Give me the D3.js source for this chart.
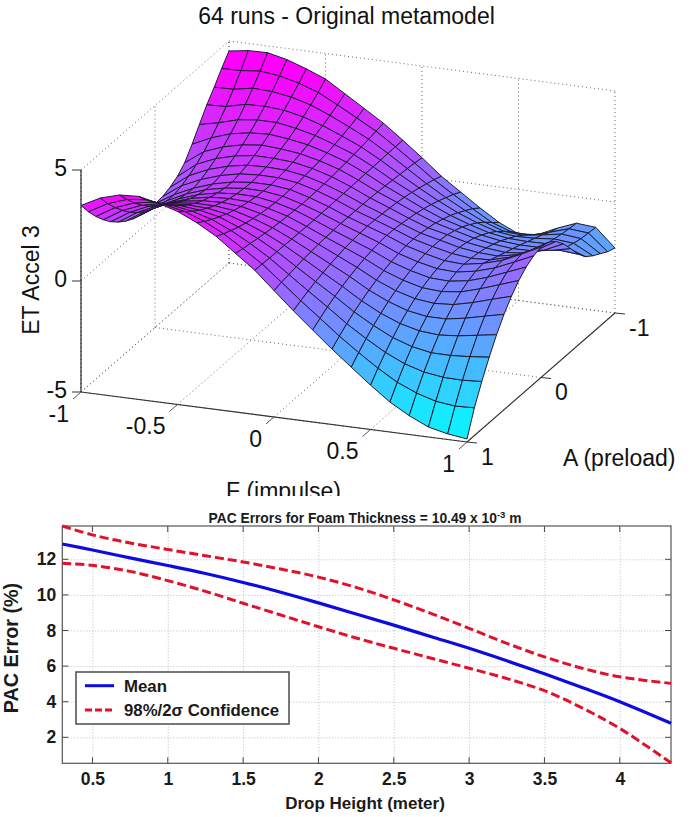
<!DOCTYPE html>
<html>
<head>
<meta charset="utf-8">
<script src="https://cdn.jsdelivr.net/npm/d3@7"></script>
<style>
  html, body { margin: 0; padding: 0; background: #fff; }
  svg { display: block; }
  text { font-family: "Liberation Sans", Arial, sans-serif; fill: #111; }
  .low text { font-weight: bold; fill: #1a1a1a; }
</style>
</head>
<body>
<svg width="694" height="817"></svg>
<script>
var fValues = [-1, -0.9, -0.8, -0.7, -0.6, -0.5, -0.4, -0.3, -0.2, -0.1, 0, 0.1, 0.2, 0.3, 0.4, 0.5, 0.6, 0.7, 0.8, 0.9, 1];
var aValues = [1, 0.9, 0.8, 0.7, 0.6, 0.5, 0.4, 0.3, 0.2, 0.1, 0, -0.1, -0.2, -0.3, -0.4, -0.5, -0.6, -0.7, -0.8, -0.9, -1];
var zRows = [
  [3.4, 3.85, 4.1, 4.15, 3.95, 3.7, 3.3, 2.8, 2.15, 1.5, 0.7, -0.1, -0.85, -1.6, -2.3, -3, -3.65, -4.15, -4.55, -4.75, -4.86],
  [2.83, 3.31, 3.61, 3.71, 3.58, 3.4, 3.07, 2.63, 2.07, 1.49, 0.78, 0.06, -0.62, -1.31, -1.94, -2.53, -3.05, -3.42, -3.68, -3.78, -3.75],
  [2.33, 2.84, 3.16, 3.31, 3.26, 3.12, 2.87, 2.48, 2.01, 1.47, 0.84, 0.21, -0.4, -1.04, -1.6, -2.11, -2.51, -2.77, -2.89, -2.91, -2.85],
  [1.89, 2.42, 2.77, 2.96, 2.97, 2.88, 2.69, 2.35, 1.95, 1.46, 0.9, 0.34, -0.21, -0.8, -1.3, -1.73, -2.03, -2.19, -2.2, -2.14, -2.05],
  [1.51, 2.05, 2.44, 2.66, 2.71, 2.68, 2.53, 2.24, 1.89, 1.46, 0.96, 0.45, -0.05, -0.59, -1.04, -1.39, -1.61, -1.68, -1.61, -1.47, -1.33],
  [1.2, 1.75, 2.15, 2.4, 2.5, 2.5, 2.4, 2.15, 1.85, 1.45, 1, 0.55, 0.1, -0.4, -0.8, -1.1, -1.25, -1.25, -1.1, -0.9, -0.7],
  [0.95, 1.5, 1.92, 2.19, 2.32, 2.36, 2.29, 2.08, 1.81, 1.45, 1.04, 0.63, 0.22, -0.24, -0.6, -0.85, -0.95, -0.89, -0.69, -0.43, -0.18],
  [0.76, 1.32, 1.73, 2.02, 2.19, 2.24, 2.21, 2.03, 1.79, 1.44, 1.06, 0.7, 0.33, -0.1, -0.42, -0.65, -0.71, -0.61, -0.36, -0.06, 0.24],
  [0.63, 1.19, 1.6, 1.9, 2.09, 2.16, 2.15, 2, 1.77, 1.44, 1.08, 0.75, 0.41, 0.01, -0.28, -0.49, -0.53, -0.4, -0.13, 0.21, 0.56],
  [0.57, 1.11, 1.53, 1.83, 2.02, 2.12, 2.11, 1.99, 1.75, 1.45, 1.1, 0.78, 0.46, 0.09, -0.18, -0.37, -0.41, -0.26, 0, 0.38, 0.77],
  [0.57, 1.1, 1.5, 1.8, 2, 2.1, 2.1, 2, 1.75, 1.45, 1.1, 0.8, 0.5, 0.15, -0.1, -0.3, -0.35, -0.2, 0.05, 0.45, 0.88],
  [0.6, 1.21, 1.6, 1.89, 2.08, 2.14, 2.13, 2.01, 1.77, 1.46, 1.1, 0.8, 0.49, 0.16, -0.07, -0.27, -0.37, -0.33, -0.1, 0.3, 0.8],
  [0.72, 1.37, 1.76, 2.02, 2.18, 2.21, 2.18, 2.04, 1.79, 1.47, 1.1, 0.78, 0.45, 0.13, -0.07, -0.29, -0.41, -0.45, -0.28, 0.05, 0.55],
  [0.92, 1.59, 1.96, 2.19, 2.32, 2.31, 2.25, 2.08, 1.82, 1.48, 1.09, 0.75, 0.4, 0.08, -0.12, -0.35, -0.49, -0.58, -0.5, -0.25, 0.15],
  [1.25, 1.87, 2.2, 2.4, 2.5, 2.44, 2.34, 2.13, 1.86, 1.49, 1.07, 0.71, 0.34, 0.01, -0.22, -0.45, -0.61, -0.7, -0.68, -0.55, -0.35],
  [1.8, 2.2, 2.5, 2.65, 2.7, 2.6, 2.45, 2.2, 1.9, 1.5, 1.05, 0.65, 0.25, -0.1, -0.35, -0.6, -0.75, -0.82, -0.82, -0.82, -0.9],
  [2.4, 2.59, 2.84, 2.94, 2.94, 2.79, 2.58, 2.28, 1.95, 1.51, 1.02, 0.58, 0.15, -0.23, -0.53, -0.79, -0.93, -0.96, -0.94, -0.98, -1.3],
  [3, 3.03, 3.24, 3.27, 3.2, 3.01, 2.73, 2.38, 2, 1.52, 0.99, 0.49, 0.02, -0.4, -0.74, -1.02, -1.13, -1.1, -1.02, -1.1, -1.55],
  [3.5, 3.52, 3.68, 3.64, 3.5, 3.26, 2.9, 2.49, 2.06, 1.53, 0.96, 0.39, -0.12, -0.59, -1, -1.3, -1.37, -1.24, -1.09, -1.18, -1.75],
  [4.05, 4.07, 4.16, 4.05, 3.84, 3.54, 3.09, 2.61, 2.13, 1.54, 0.92, 0.28, -0.27, -0.8, -1.31, -1.62, -1.65, -1.41, -1.14, -1.22, -1.95],
  [4.55, 4.68, 4.7, 4.5, 4.2, 3.85, 3.3, 2.75, 2.2, 1.55, 0.87, 0.15, -0.45, -1.05, -1.6, -2, -1.92, -1.52, -1.18, -1.25, -2.07]
];
var fTicks = [-1, -0.5, 0, 0.5, 1];
var aTicks = [-1, 0, 1];
var zTicks = [-5, 0, 5];

// lower chart, read at the same drop heights for all three lines
var dropHeight = [0.3, 0.5, 0.75, 1, 1.25, 1.5, 1.75, 2, 2.25, 2.5, 2.75, 3, 3.25, 3.5, 3.75, 4, 4.34];
var meanError = [12.86, 12.52, 12.08, 11.65, 11.2, 10.7, 10.15, 9.55, 8.93, 8.3, 7.65, 7.0, 6.3, 5.57, 4.8, 4.0, 2.79];
var upperError = [13.87, 13.37, 12.92, 12.55, 12.2, 11.85, 11.45, 11.0, 10.42, 9.72, 8.95, 8.12, 7.28, 6.52, 5.88, 5.4, 5.03];
var lowerError = [11.78, 11.66, 11.32, 10.8, 10.2, 9.53, 8.87, 8.21, 7.58, 7.0, 6.44, 5.88, 5.3, 4.62, 3.65, 2.5, 0.57];
var heightTicks = [0.5, 1, 1.5, 2, 2.5, 3, 3.5, 4];
var errorTicks = [2, 4, 6, 8, 10, 12];

var svg = d3.select("svg");

draw3d();
drawLower();

function draw3d() {
  var g = svg.append("g");

  // the box is an oblique projection: each data axis has its own screen x and y scale
  var fx = d3.scaleLinear().domain([-1, 1]).range([0, 386]);
  var fy = d3.scaleLinear().domain([-1, 1]).range([0, 50]);
  var ax = d3.scaleLinear().domain([1, -1]).range([0, 148]);
  var ay = d3.scaleLinear().domain([1, -1]).range([0, -129]);
  var zy = d3.scaleLinear().domain([-5, 5]).range([0, -222]);

  function px(f, a) { return 81 + fx(f) + ax(a); }
  function py(f, a, z) { return 392 + fy(f) + ay(a) + zy(z); }

  function seg(p, q, color, dash) {
    g.append("line")
      .attr("x1", px(p[0], p[1])).attr("y1", py(p[0], p[1], p[2]))
      .attr("x2", px(q[0], q[1])).attr("y2", py(q[0], q[1], q[2]))
      .attr("stroke", color)
      .attr("stroke-width", dash ? 1 : 1.1)
      .attr("stroke-dasharray", dash ? "1,3" : null);
  }

  // dotted grid on the two back walls and the floor
  var gridColor = "#666";
  fTicks.forEach(function (f) {
    seg([f, -1, -5], [f, -1, 5], gridColor, true);
    seg([f, 1, -5], [f, -1, -5], gridColor, true);
  });
  aTicks.forEach(function (a) {
    seg([-1, a, -5], [-1, a, 5], gridColor, true);
    seg([-1, a, -5], [1, a, -5], gridColor, true);
  });
  zTicks.forEach(function (z) {
    seg([-1, -1, z], [1, -1, z], gridColor, true);
    seg([-1, 1, z], [-1, -1, z], gridColor, true);
  });

  // axis lines and ticks
  seg([-1, 1, -5], [-1, 1, 5], "#111");
  seg([-1, 1, -5], [1, 1, -5], "#333");
  seg([1, 1, -5], [1, -1, -5], "#333");

  zTicks.forEach(function (z) {
    var x = px(-1, 1), y = py(-1, 1, z);
    g.append("line").attr("x1", x - 9).attr("y1", y).attr("x2", x).attr("y2", y).attr("stroke", "#333");
    g.append("text").attr("x", x - 14).attr("y", y + 6).attr("text-anchor", "end")
      .attr("font-size", 23).text(z);
  });
  fTicks.forEach(function (f) {
    var x = px(f, 1), y = py(f, 1, -5);
    g.append("line").attr("x1", x).attr("y1", y).attr("x2", x - 8).attr("y2", y + 7).attr("stroke", "#555");
    g.append("text").attr("x", x - 12).attr("y", y + 29.5).attr("text-anchor", "end")
      .attr("font-size", 23).text(f);
  });
  aTicks.forEach(function (a) {
    var x = px(1, a), y = py(1, a, -5);
    g.append("line").attr("x1", x).attr("y1", y).attr("x2", x + 10).attr("y2", y + 1).attr("stroke", "#333");
    g.append("text").attr("x", x + 14).attr("y", y + 22.5)
      .attr("font-size", 23).text(a);
  });

  // faces back to front, the depth key comes from the box directions
  var color = d3.scaleLinear().domain([-4.9, 4.1]).range(["#00ffff", "#ff00ff"]).clamp(true);
  var quads = [];
  d3.range(aValues.length - 1).forEach(function (i) {
    d3.range(fValues.length - 1).forEach(function (j) {
      var corners = [[i, j], [i, j + 1], [i + 1, j + 1], [i + 1, j]].map(function (c) {
        return [fValues[c[1]], aValues[c[0]], zRows[c[0]][c[1]]];
      });
      quads.push({
        corners: corners,
        mean: d3.mean(corners, function (c) { return c[2]; }),
        depth: d3.mean(corners, function (c) { return 0.38 * c[0] + c[1] + 0.133 * c[2]; })
      });
    });
  });
  quads.sort(function (p, q) { return p.depth - q.depth; });

  g.append("g").selectAll("path").data(quads).enter().append("path")
    .attr("d", function (d) {
      return "M" + d.corners.map(function (c) {
        return px(c[0], c[1]).toFixed(1) + "," + py(c[0], c[1], c[2]).toFixed(1);
      }).join("L") + "Z";
    })
    .attr("fill", function (d) { return color(d.mean); })
    .attr("stroke", "#1c1c30")
    .attr("stroke-width", 1)
    .attr("stroke-linejoin", "round");

  g.append("text").attr("x", 346.5).attr("y", 24).attr("text-anchor", "middle")
    .attr("font-size", 23).text("64 runs - Original metamodel");
  g.append("text").attr("x", 563).attr("y", 466).attr("font-size", 23).text("A (preload)");
  g.append("text").attr("x", 226).attr("y", 499).attr("font-size", 23).text("F (impulse)");
  g.append("text").attr("transform", "translate(39,280) rotate(-90)").attr("text-anchor", "middle")
    .attr("font-size", 23).text("ET Accel 3");
}

function drawLower() {
  // this panel sits on top of the first one and hides the bottom of its x label
  svg.append("rect").attr("x", 0).attr("y", 496).attr("width", 694).attr("height", 321).attr("fill", "#fff");

  var g = svg.append("g").attr("class", "low");
  var left = 62.3, right = 671, top = 526, bottom = 763.3;

  var xScale = d3.scaleLinear().domain([0.3, 4.34]).range([left, right]);
  var yScale = d3.scaleLinear().domain([0.54, 13.87]).range([bottom, top]);

  var xAxis = d3.axisBottom().scale(xScale).tickValues(heightTicks)
    .tickSize(-(bottom - top)).tickPadding(9).tickFormat(d3.format("~g"));
  var yAxis = d3.axisLeft().scale(yScale).tickValues(errorTicks)
    .tickSize(-(right - left)).tickPadding(6);

  var xG = g.append("g").attr("transform", "translate(0," + bottom + ")").call(xAxis);
  var yG = g.append("g").attr("transform", "translate(" + left + ",0)").call(yAxis);

  [xG, yG].forEach(function (a) {
    a.select(".domain").remove();
    a.selectAll(".tick line").attr("stroke", "#bbb").attr("stroke-dasharray", "1,2");
    a.selectAll(".tick text").attr("font-size", 17.5).attr("font-family", "Liberation Sans, Arial, sans-serif");
  });

  // short solid ticks inside all four sides
  heightTicks.forEach(function (v) {
    [[bottom, bottom - 6], [top, top + 6]].forEach(function (t) {
      g.append("line").attr("x1", xScale(v)).attr("x2", xScale(v)).attr("y1", t[0]).attr("y2", t[1]).attr("stroke", "#444");
    });
  });
  errorTicks.forEach(function (v) {
    [[left, left + 6], [right, right - 6]].forEach(function (t) {
      g.append("line").attr("y1", yScale(v)).attr("y2", yScale(v)).attr("x1", t[0]).attr("x2", t[1]).attr("stroke", "#444");
    });
  });

  g.append("rect").attr("x", left).attr("y", top).attr("width", right - left).attr("height", bottom - top)
    .attr("fill", "none").attr("stroke", "#555").attr("stroke-width", 1.2);

  function lineOf(values) {
    return d3.line()
      .x(function (d, i) { return xScale(dropHeight[i]); })
      .y(function (d) { return yScale(d); })
      .curve(d3.curveCatmullRom)(values);
  }

  g.append("path").attr("d", lineOf(upperError)).attr("fill", "none")
    .attr("stroke", "#e3102c").attr("stroke-width", 3).attr("stroke-dasharray", "9,4");
  g.append("path").attr("d", lineOf(lowerError)).attr("fill", "none")
    .attr("stroke", "#e3102c").attr("stroke-width", 3).attr("stroke-dasharray", "9,4");
  g.append("path").attr("d", lineOf(meanError)).attr("fill", "none")
    .attr("stroke", "#0c0ce0").attr("stroke-width", 3.2);

  // legend
  g.append("rect").attr("x", 76).attr("y", 672).attr("width", 213).attr("height", 52)
    .attr("fill", "#fff").attr("stroke", "#555").attr("stroke-width", 1.6);
  g.append("line").attr("x1", 85).attr("x2", 114).attr("y1", 685.7).attr("y2", 685.7)
    .attr("stroke", "#0c0ce0").attr("stroke-width", 3);
  g.append("line").attr("x1", 85).attr("x2", 114).attr("y1", 710).attr("y2", 710)
    .attr("stroke", "#e3102c").attr("stroke-width", 3).attr("stroke-dasharray", "7,3");
  g.append("text").attr("x", 124).attr("y", 691.5).attr("font-size", 16.8).text("Mean");
  g.append("text").attr("x", 124).attr("y", 715.5).attr("font-size", 16.8).text("98%/2σ Confidence");

  var title = g.append("text").attr("x", 365).attr("y", 523).attr("text-anchor", "middle").attr("font-size", 13.8);
  title.append("tspan").text("PAC Errors for Foam Thickness = 10.49 x 10");
  title.append("tspan").attr("dy", -5).attr("font-size", 9.5).text("-3");
  title.append("tspan").attr("dy", 5).text(" m");

  g.append("text").attr("x", 365).attr("y", 809).attr("text-anchor", "middle")
    .attr("font-size", 17).text("Drop Height (meter)");
  g.append("text").attr("transform", "translate(18,648) rotate(-90)").attr("text-anchor", "middle")
    .attr("font-size", 19.8).text("PAC Error (%)");
}
</script>
</body>
</html>
